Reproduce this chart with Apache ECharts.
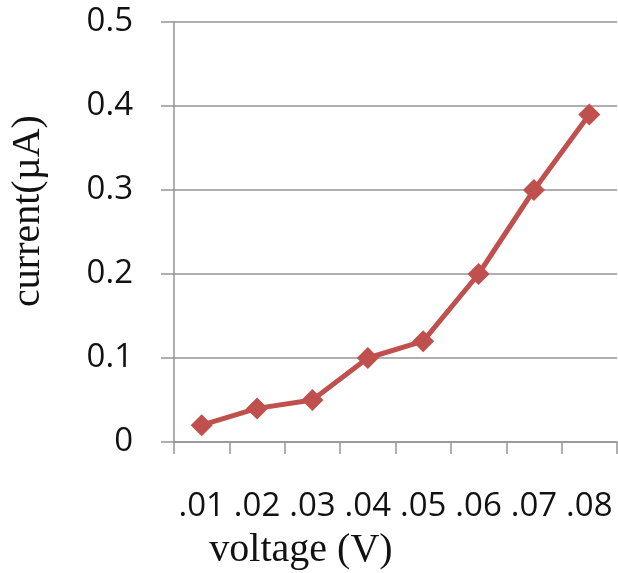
<!DOCTYPE html>
<html>
<head>
<meta charset="utf-8">
<script src="https://cdn.jsdelivr.net/npm/echarts@6/dist/echarts.min.js"></script>
<style>
  html, body { margin: 0; padding: 0; background: #fff; }
  #chart { width: 618px; height: 573px; }
</style>
</head>
<body>
<div id="chart"></div>
<script>
'use strict';
/* current vs voltage line chart */

var voltages = ['.01', '.02', '.03', '.04', '.05', '.06', '.07', '.08'];
var currents = [0.02, 0.04, 0.05, 0.10, 0.12, 0.20, 0.30, 0.39];
var yTicks = [0, 0.1, 0.2, 0.3, 0.4, 0.5];

var lineColor = '#C0504D';
var gridColor = '#959595';

var chart = echarts.init(document.getElementById('chart'));
var option = {
  animation: false,
  backgroundColor: '#fff',
  grid: {
    left: 174,
    right: 1,
    top: 22,
    bottom: 131
  },
  xAxis: {
    type: 'category',
    data: voltages,
    boundaryGap: true,
    axisLine: { show: true, lineStyle: { color: gridColor, width: 1.5 } },
    axisTick: { show: true, inside: false, length: 12, alignWithLabel: false, lineStyle: { color: gridColor, width: 1.5 } },
    axisLabel: {
      margin: 48,
      color: '#111',
      fontFamily: 'Open Sans',
      fontSize: 33,
      interval: 0
    },
    splitLine: { show: false }
  },
  yAxis: {
    type: 'value',
    min: yTicks[0],
    max: yTicks[yTicks.length - 1],
    interval: 0.1,
    axisLine: { show: true, lineStyle: { color: gridColor, width: 1.5 } },
    axisTick: { show: true, inside: false, length: 13, lineStyle: { color: gridColor, width: 1.5 } },
    axisLabel: {
      margin: 41,
      color: '#111',
      fontFamily: 'Open Sans',
      fontSize: 33,
      formatter: function(v) {
        return v === 0 ? '0' : v.toFixed(1);
      }
    },
    splitLine: { show: true, lineStyle: { color: gridColor, width: 1.5 } }
  },
  graphic: [
    {
      type: 'text',
      x: 28,
      y: 211,
      rotation: Math.PI / 2,
      style: {
        text: 'current(µA)',
        font: '40px "Liberation Serif"',
        fill: '#111',
        align: 'center',
        verticalAlign: 'middle'
      }
    },
    {
      type: 'text',
      x: 301,
      y: 550,
      style: {
        text: 'voltage (V)',
        font: '40px "Liberation Serif"',
        fill: '#111',
        align: 'center',
        verticalAlign: 'middle'
      }
    }
  ],
  series: [{
    name: 'current',
    type: 'line',
    data: currents,
    symbol: 'diamond',
    symbolSize: 22,
    lineStyle: { color: lineColor, width: 5 },
    itemStyle: { color: lineColor }
  }]
};
chart.setOption(option);
</script>
</body>
</html>
